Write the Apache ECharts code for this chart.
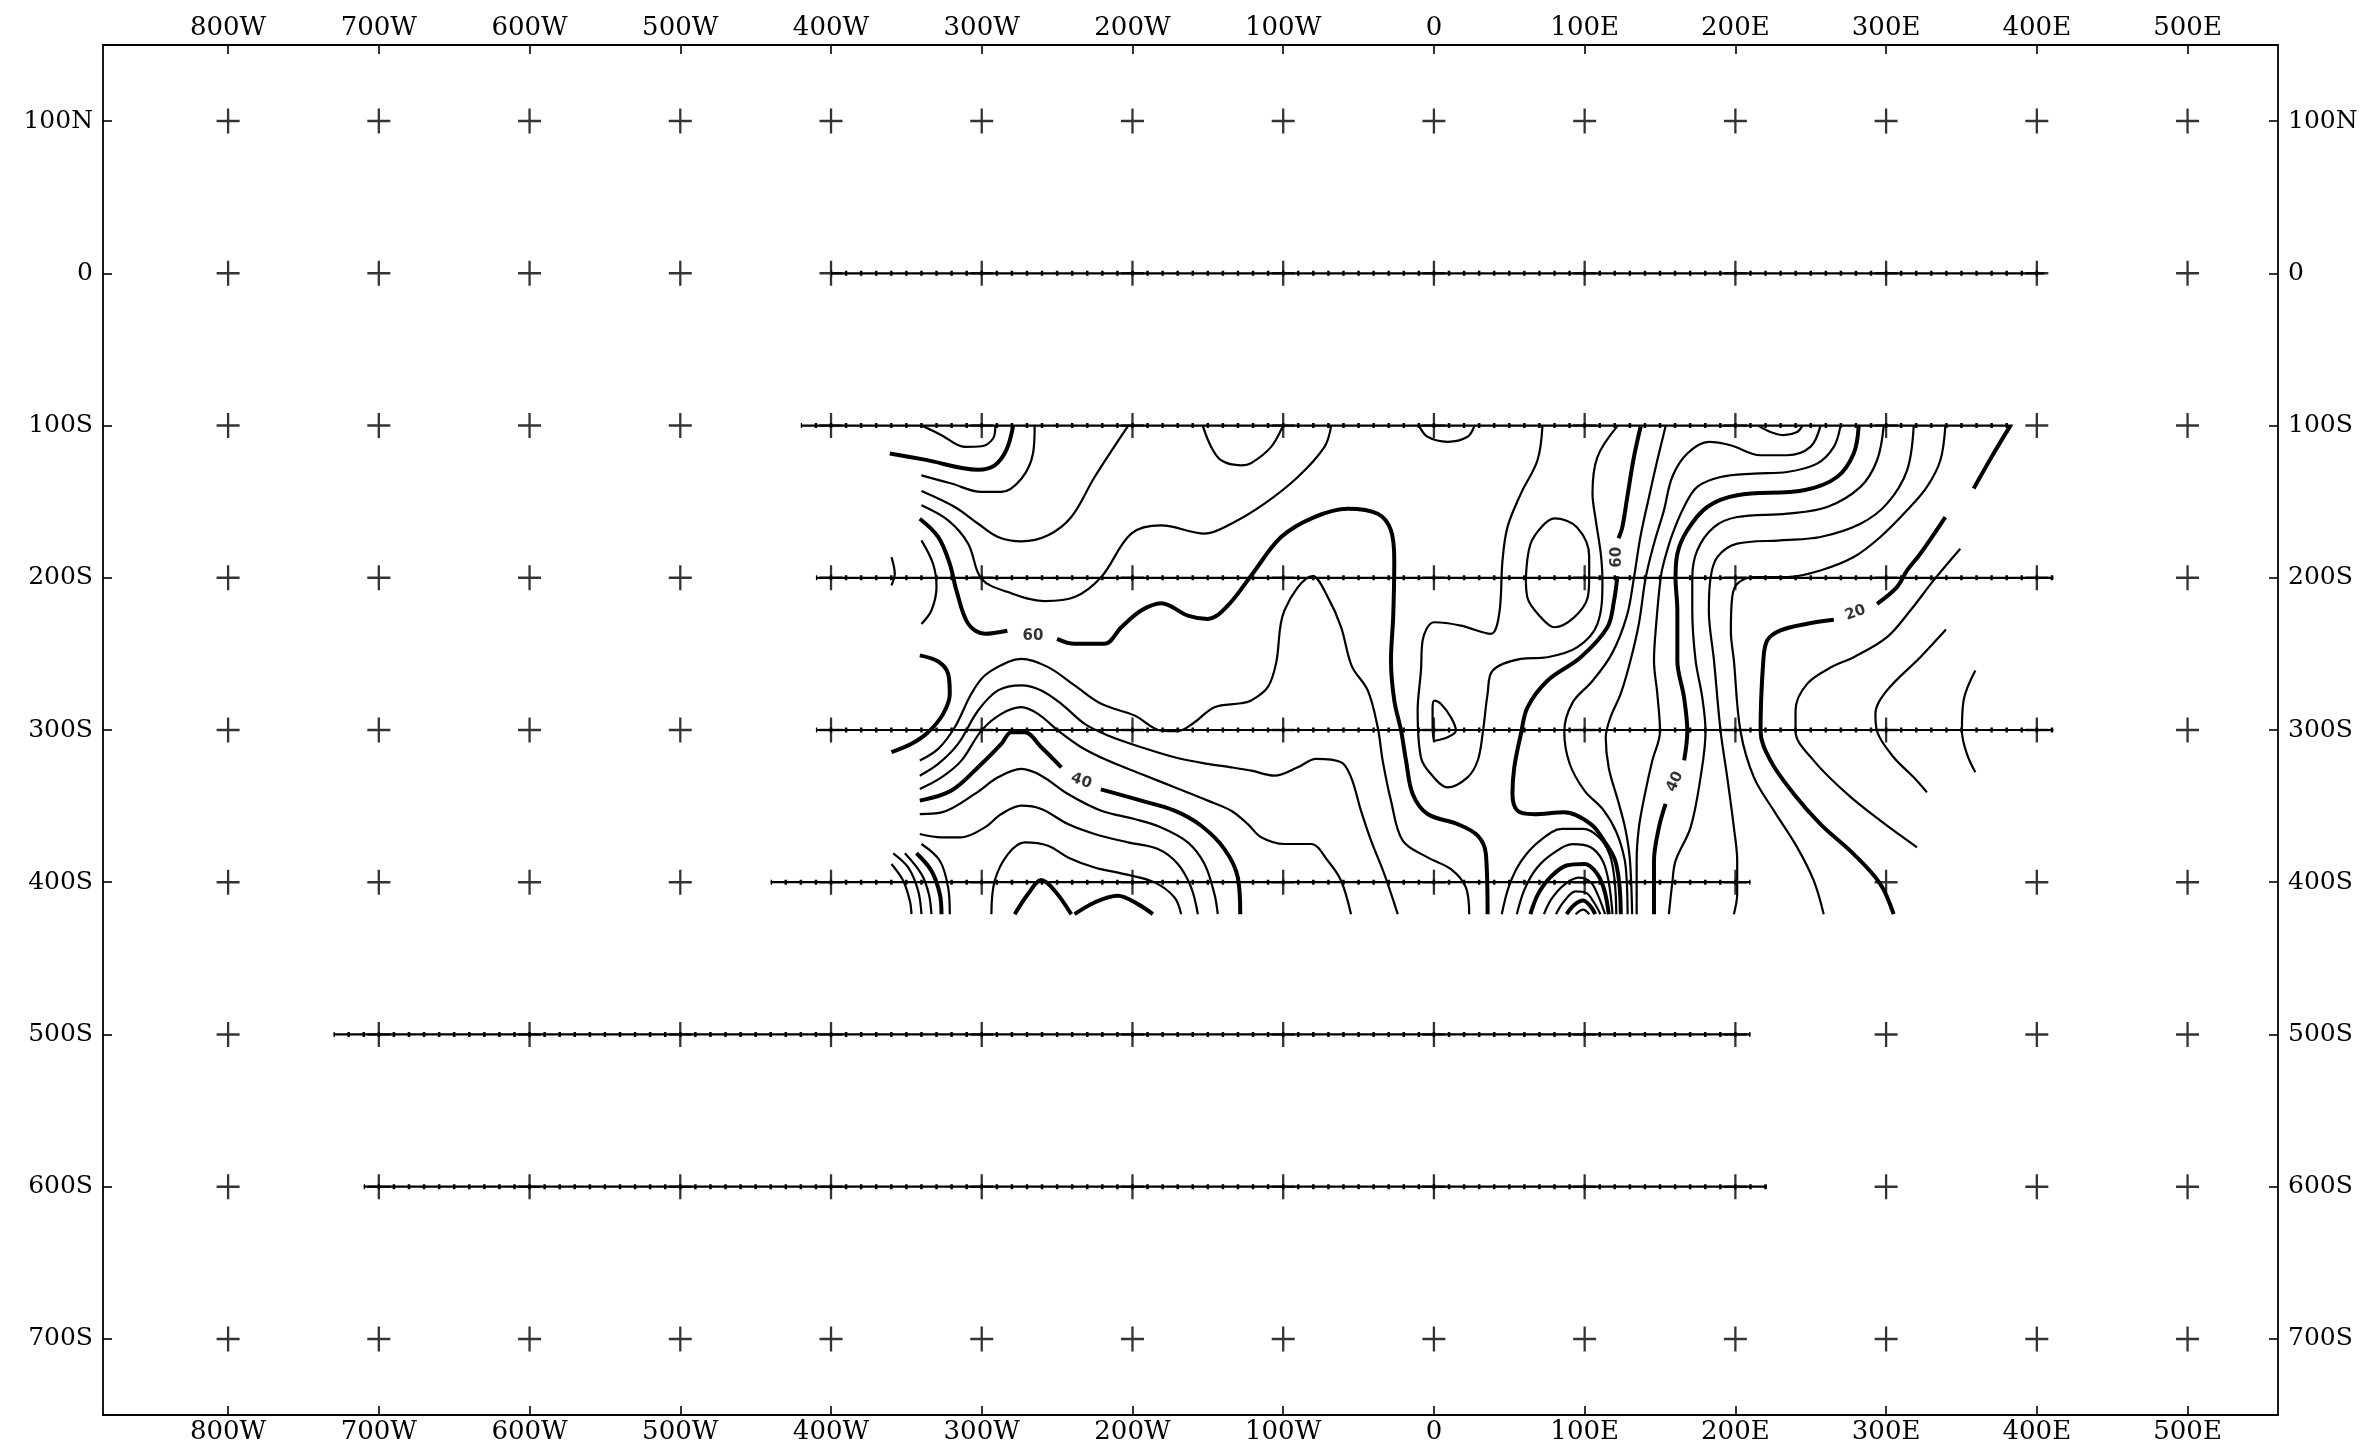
<!DOCTYPE html>
<html>
<head>
<meta charset="utf-8">
<script src="https://cdn.jsdelivr.net/npm/echarts/dist/echarts.min.js"></script>
<style>
	body { margin: 0; background: #fff; }
	#chart { width: 2368px; height: 1452px; }
</style>
</head>
<body>
<div id="chart"></div>
<script>
	// axis ticks and labels
	var xTickValues = [-800, -700, -600, -500, -400, -300, -200, -100, 0, 100, 200, 300, 400, 500];
	var xTickLabels = ['800W', '700W', '600W', '500W', '400W', '300W', '200W', '100W', '0', '100E', '200E', '300E', '400E', '500E'];
	var yTickValues = [100, 0, -100, -200, -300, -400, -500, -600, -700];
	var yTickLabels = ['100N', '0', '100S', '200S', '300S', '400S', '500S', '600S', '700S'];

	// survey lines: row, start, end
	var surveyRows = [0, -100, -200, -300, -400, -500, -600];
	var surveyStart = [-400, -420, -410, -410, -440, -730, -710];
	var surveyEnd = [405, 384, 411, 411, 210, 210, 221];

	// thin contours
	var thinContours = [
		[[-338.9,-100.4],[-326.7,-106.3],[-311.3,-114],[-300.2,-113.6],[-292.5,-108.5],[-291,-100.4]],
		[[-340,-132.7],[-320.1,-138.1],[-300.2,-143.6],[-287,-143.6],[-273.7,-134.9],[-266,-118.4],[-264.9,-100.4]],
		[[-340,-143],[-317.9,-153.5],[-302.4,-164.5],[-289.2,-173.2],[-273.7,-176.1],[-256,-172.1],[-240.6,-160.1],[-225.1,-133.8],[-203,-100.4]],
		[[-340,-152.4],[-322.3,-162.3],[-309,-177.6],[-300.2,-200.6],[-282.6,-209.4],[-258.3,-215.3],[-238.4,-212.7],[-220.7,-199.5],[-200.8,-171],[-180.9,-165.6],[-152.2,-171],[-134.5,-164.5],[-112.4,-151.3],[-90.3,-133.8],[-72.6,-114],[-68.2,-100.4]],
		[[-359.9,-186.4],[-357.7,-197.4],[-359.9,-205]],
		[[-340,-175.4],[-332.3,-190.8],[-330,-206.1],[-333.4,-221.5],[-340,-230.3]],
		[[-153.3,-100.4],[-147.8,-114],[-141.2,-122.8],[-127.9,-126.1],[-121,-124.5],[-108,-114],[-100.3,-100.4]],
		[[-9.7,-100.4],[-4.2,-107.4],[9.1,-110.7],[22.3,-107.4],[26.8,-100.4]],
		[[-341.1,-320.1],[-328.9,-312.4],[-317.9,-298.2],[-306.9,-276.2],[-298,-264.2],[-282.6,-255.4],[-273.7,-253.3],[-256,-258.7],[-238.4,-270.7],[-220.7,-282.8],[-198.6,-290.5],[-180.9,-300.4],[-169.9,-300.8],[-158.8,-294.9],[-145.6,-285],[-127.9,-282.4],[-121.2,-280.6],[-110.2,-271.8],[-104.7,-256],[-99.2,-221.5],[-80.4,-198.9],[-70.4,-212.7],[-61.6,-232.4],[-54.5,-258],[-43.9,-274],[-37.3,-298.2],[-34,-320.1],[-28.5,-346.4],[-20.7,-372.7],[-4.2,-383.7],[11.3,-391.4],[21.2,-403.4],[23.4,-421]],
		[[-341.1,-330],[-328.9,-322.3],[-315.7,-309.1],[-302.4,-287.2],[-289.2,-274],[-273.7,-270.7],[-260.5,-274],[-247.2,-282.8],[-231.7,-296],[-216.3,-303.6],[-194.2,-311.3],[-172.1,-317.9],[-150,-322.3],[-134.5,-324.5],[-121.2,-326.7],[-105.8,-330],[-90.3,-324.5],[-78.2,-319],[-61.6,-321.2],[-55,-331],[-48.4,-353],[-41.7,-372.7],[-32.9,-394.7],[-24,-421]],
		[[-341.1,-338.7],[-326.7,-331.1],[-313.5,-320.1],[-300.2,-300.4],[-287,-289.4],[-273.7,-285],[-262.7,-289.4],[-249.4,-300.4],[-234,-311.3],[-216.3,-320.1],[-194.2,-328.9],[-172.1,-337.6],[-150,-346.4],[-134.5,-353],[-123.5,-361.8],[-114.6,-370.5],[-99.2,-374.9],[-81.5,-374.9],[-70.4,-385.9],[-61.6,-399],[-55,-421]],
		[[-341.1,-355.2],[-326.7,-354.1],[-304.6,-342],[-289.2,-331.1],[-273.7,-325.6],[-260.5,-330],[-242.8,-342],[-220.7,-353],[-198.6,-358.5],[-180.9,-364],[-163.3,-373.8],[-152.2,-388],[-145.6,-407.8],[-143.4,-421]],
		[[-341.1,-368.3],[-326.7,-370.5],[-313.5,-370.5],[-298,-364],[-287,-355.2],[-273.7,-349.7],[-260.5,-351.9],[-242.8,-361.8],[-225.1,-368.3],[-203,-373.8],[-183.1,-378.2],[-169.9,-388],[-161.1,-403.4],[-156.6,-421]],
		[[-293.6,-421],[-291.4,-399],[-282.6,-381.5],[-271.5,-373.8],[-256,-376],[-242.8,-383.7],[-225.1,-390.3],[-205.2,-394.7],[-185.4,-400.1],[-172.1,-410],[-167.7,-421]],
		[[-359.9,-388],[-352.1,-399],[-347.7,-412.2],[-346.6,-421]],
		[[-358.8,-381],[-348.8,-390.3],[-342.2,-405.6],[-340,-421]],
		[[-351,-381],[-340,-394.7],[-335.1,-407.8],[-333.4,-421]],
		[[-340,-374.9],[-327.8,-385.9],[-322.3,-403.4],[-321.2,-421]],
		[[72,-100.4],[68.7,-122.8],[57.7,-144.7],[48.8,-166.7],[45.5,-188.6],[43.3,-223.7],[37.8,-236.8],[17.9,-231.4],[0.2,-229.2],[-7.5,-241.2],[-8.6,-261],[-10.8,-287.2],[-8.6,-318],[-2,-328.9],[9.1,-337.7],[22.3,-331.1],[29,-320.2],[32.3,-302.6],[35.6,-276.3],[38.9,-261],[57.7,-253.3],[75.3,-252.2],[95.2,-245.6],[108.5,-230.3],[111.8,-201.8],[110.7,-184.2],[107.4,-162.3],[105.2,-144.7],[108.5,-120.6],[121.7,-100.4]],
		[[61,-200],[64,-178],[72,-166],[80,-161],[95,-167],[103,-186],[103,-200],[102,-213],[93,-226],[80,-232.5],[71,-226],[62,-213],[61,-200]],
		[[-0.9,-285.1],[0.2,-280.7],[4.7,-282.9],[11.3,-291.7],[14.6,-300.4],[9.1,-304.8],[0.2,-307],[-0.9,-293.9],[-0.9,-285.1]],
		[[153.7,-100.4],[148.2,-122.8],[142.7,-146.9],[137,-173],[132.7,-200],[128,-225],[118,-250],[105,-268],[92,-282],[86.5,-301],[90,-322],[100,-340],[112,-352],[121,-367],[126.5,-385],[128,-401],[128.5,-421]],
		[[256.4,-100.4],[249.8,-114],[234.3,-119.5],[216.7,-119.5],[196.8,-112.9],[182.4,-110.7],[168.1,-118.4],[158.1,-133.8],[152.6,-155.7],[146,-177.6],[140.5,-200],[136,-230],[130.5,-254],[124,-276],[117,-292],[114,-305],[116,-325],[122,-346],[127,-365],[130,-385],[131.5,-421]],
		[[269.7,-100.4],[265.3,-114],[254.2,-125],[234.3,-130.5],[212.3,-131.6],[190.2,-133.8],[174.7,-140.3],[165.9,-153.5],[158,-172],[152.5,-190],[150.4,-200.2],[147.5,-230],[146,-254.3],[148.2,-276.2],[150,-300.8],[144.9,-320.1],[140,-342],[136,-364],[134.5,-386],[134.5,-421]],
		[[298.4,-100.4],[294,-122.8],[283,-140.3],[260.9,-153.5],[234.3,-157.9],[201.2,-160.1],[185.8,-166.7],[174.7,-182],[171.4,-200.2],[171.4,-221.5],[173.6,-254.3],[178,-278.4],[180.2,-300.8],[176.9,-331.1],[170.3,-364],[160.3,-386],[158.1,-400.8],[155.9,-421]],
		[[318.3,-100.4],[313.9,-129.4],[300.6,-151.3],[283,-164.5],[256.4,-173.2],[229.9,-175.4],[201.2,-177.6],[188,-186.4],[183.5,-200.2],[182.4,-221.5],[185.8,-254.3],[190.2,-300.8],[194.6,-331.1],[199,-364],[201.2,-386],[201.2,-407.8],[199,-421]],
		[[339.3,-100.4],[336,-122.8],[327.1,-140.3],[313.9,-155.7],[296.2,-173.2],[278.5,-186.4],[256.4,-195.2],[234.3,-199.5],[212.3,-199.5],[201.2,-204],[197.9,-212.7],[197,-235],[199,-254.3],[203.4,-300.8],[212.3,-331.1],[225.5,-353],[241,-377.1],[252,-399],[258.6,-421]],
		[[349.2,-180.9],[331.5,-201.7],[316.1,-221.5],[300.6,-239],[278.5,-252.2],[265,-258],[247.6,-269.7],[239.9,-287.2],[239.9,-300.8],[252,-320.1],[274.1,-342],[296.2,-359.6],[320.5,-377.1]],
		[[339.7,-234],[322.7,-252.2],[300.6,-274],[292.9,-289.4],[294,-300.8],[305,-317.9],[318.3,-331.1],[327.1,-341]],
		[[359.2,-260.9],[351.4,-280.6],[350.3,-300.8],[353.6,-315.7],[359.2,-327.8]],
		[[215.6,-100.4],[223.3,-104.2],[232.1,-106.3],[241,-104.2],[244.3,-100.4]],
		[[45,-421],[50,-402],[58,-386],[70,-373],[85,-365],[99,-365],[110,-371],[117,-383],[120,-400],[121,-421]],
		[[55,-421],[60,-405],[68,-391],[79,-381],[92,-375],[104,-377],[112,-386],[116,-400],[118.5,-421]],
		[[73,-421],[78,-411],[86,-402],[96,-397],[104,-400],[109,-409],[113.5,-421]],
		[[81,-421],[86,-413],[94,-406],[101,-407],[106,-413],[110.5,-421]],
		[[94,-421],[99,-418],[103,-421]]
	];

	// thick (index) contours
	var thickContours = [
		[[-361,-118.4],[-337.8,-122.4],[-302.4,-129],[-291.4,-126.1],[-283.7,-116.2],[-279.2,-100.4]],
		[[-341.1,-161.2],[-328.9,-173.2],[-321.2,-190.8],[-316.8,-208.3],[-309,-230.2],[-298,-236.8],[-283,-234.8]],
		[[-250,-240.1],[-238.4,-243.4],[-218.5,-243.4],[-207.4,-232.5],[-194.2,-221.5],[-180.9,-216.7],[-163.3,-224.8],[-150,-227],[-136.7,-218.2],[-121.2,-198.5],[-101.4,-173.2],[-79.3,-160.1],[-57.2,-154.6],[-37.3,-157.9],[-28.5,-168.8],[-26.3,-188.6],[-27,-225],[-28.5,-254],[-26.3,-280.6],[-21.8,-300.4],[-18.5,-320.1],[-14.1,-342],[-4.2,-355.2],[15.7,-361.8],[29,-369.4],[34.5,-381.5],[35.6,-421]],
		[[-341.1,-251],[-328.9,-255],[-322.3,-263.1],[-321.2,-276.2],[-325.6,-289.4],[-335.6,-301.5],[-346.6,-309.1],[-359.9,-314.6]],
		[[-341.1,-346.4],[-320.1,-339.8],[-300.2,-322.3],[-287,-309.1],[-280.3,-301.5],[-271.5,-301.5],[-260.5,-311.3],[-247.2,-324.5]],
		[[-221,-339],[-194.2,-346.4],[-172.1,-353],[-154.4,-362.9],[-139,-378.2],[-130.1,-396.8],[-128.5,-421]],
		[[-343.3,-381],[-333.4,-392.5],[-327.8,-407.8],[-326.7,-421]],
		[[-278.1,-421],[-269.3,-407.8],[-260.5,-398.6],[-251.6,-405.6],[-240.6,-421]],
		[[-238.4,-421],[-225.1,-413.3],[-209.7,-408.9],[-196.4,-414.4],[-186.5,-421]],
		[[137.2,-100.4],[132.7,-120.6],[128.3,-146.9],[125,-166.7],[122.5,-174]],
		[[121.7,-199],[119.5,-215],[115.1,-232.5],[97.4,-252.2],[75.3,-267.6],[62.1,-285.1],[57.7,-302.6],[53.3,-324.6],[52.1,-342.1],[55.5,-353.1],[66.5,-355.3],[86.4,-354.1],[104.1,-361.8],[112.9,-372.8],[120,-385],[123,-401],[124,-421]],
		[[281.8,-100.4],[278.5,-118.4],[267.5,-133.8],[245.4,-142.5],[201.2,-145.8],[181.3,-153.5],[168.1,-168.8],[161.5,-184.2],[160.3,-200.2],[161.5,-221.5],[161.5,-254.3],[165.9,-278.4],[168.1,-300.8],[166,-320]],
		[[153.7,-348.6],[149.3,-364],[146,-386],[146,-421]],
		[[382.3,-100.4],[371.3,-118.4],[358.1,-141.4]],
		[[339.3,-160.1],[322.7,-184.2],[313.9,-195.2],[307.2,-206.1],[294,-217.1]],
		[[265.3,-227.6],[247.6,-230.2],[229.9,-234.6],[221.1,-241.2],[218.5,-255],[216.7,-300.8],[223.3,-320.1],[238.8,-342],[256.4,-361.8],[278.5,-381.5],[296.2,-401.2],[305,-421]],
		[[64,-421],[69,-408],[77,-397],[88,-389],[100,-388],[108,-394],[113,-405],[116,-421]],
		[[88,-421],[93,-415],[99,-412],[104,-416],[107,-421]]
	];

	// contour labels
	var contourLabelText = ['60', '40', '60', '40', '20'];
	var contourLabelPos = [[-266, -238], [-234, -333.5], [121.7, -186.5], [160, -334], [279.6, -223]];
	var contourLabelRotate = [0, -20, 90, 65, 20];

	var xMin = -883, xMax = 560, yMin = -750, yMax = 150;
	var gridLeft = 103, gridRight = 90;
	var pxPer10 = (2368 - gridLeft - gridRight) / (xMax - xMin) * 10;

	function xLabel(v) {
		return xTickLabels[xTickValues.indexOf(v)];
	}
	function yLabel(v) {
		return yTickLabels[yTickValues.indexOf(v)];
	}

	function xAxisOf(pos) {
		return {
			type: 'value',
			position: pos,
			min: xMin,
			max: xMax,
			splitLine: { show: false },
			axisLine: { show: true, onZero: false, lineStyle: { color: '#000', width: 1.8 } },
			axisTick: { show: true, inside: true, length: 9, customValues: xTickValues, lineStyle: { color: '#000', width: 1.6 } },
			axisLabel: { customValues: xTickValues, formatter: xLabel, color: '#000', fontFamily: 'DejaVu Serif', fontSize: 26, margin: 4 }
		}
	}
	function yAxisOf(pos) {
		return {
			type: 'value',
			position: pos,
			min: yMin,
			max: yMax,
			splitLine: { show: false },
			axisLine: { show: true, onZero: false, lineStyle: { color: '#000', width: 1.8 } },
			axisTick: { show: true, inside: true, length: 9, customValues: yTickValues, lineStyle: { color: '#000', width: 1.6 } },
			axisLabel: { customValues: yTickValues, formatter: yLabel, color: '#000', fontFamily: 'DejaVu Serif', fontSize: 25, margin: 10 }
		}
	}

	var series = [];

	// station crosses
	var crosses = [];
	yTickValues.forEach(function (y) {
		xTickValues.forEach(function (x) {
			crosses.push([x, y]);
		});
	});
	series.push({
		type: 'scatter',
		data: crosses,
		symbol: 'path://M9,0H11V9H20V11H11V20H9V11H0V9H9Z',
		symbolSize: [23, 25],
		itemStyle: { color: '#000' },
		silent: true
	});

	// survey tracks
	surveyRows.forEach(function (row, i) {
		var pts = [[surveyStart[i], row], [surveyEnd[i], row]];
		series.push({
			type: 'line', data: pts, symbol: 'none', silent: true,
			lineStyle: { color: '#000', width: 2.2 }
		});
		series.push({
			type: 'line', data: pts, symbol: 'none', silent: true,
			lineStyle: { color: '#000', width: 5, type: [2.5, pxPer10 - 2.5], dashOffset: 1.25, cap: 'butt' }
		});
	});

	thinContours.forEach(function (c) {
		series.push({
			type: 'line', data: c, symbol: 'none', smooth: 0.35, silent: true,
			lineStyle: { color: '#000', width: 2.2 }
		});
	});
	thickContours.forEach(function (c) {
		series.push({
			type: 'line', data: c, symbol: 'none', smooth: 0.35, silent: true,
			lineStyle: { color: '#000', width: 4 }
		});
	});

	series.push({
		type: 'scatter',
		symbolSize: 1,
		itemStyle: { color: 'rgba(0,0,0,0)' },
		silent: true,
		label: { show: true, position: 'inside', color: '#000', fontSize: 15, fontWeight: 'bold', fontFamily: 'DejaVu Sans' },
		data: contourLabelPos.map(function (p, i) {
			return { value: p, label: { formatter: contourLabelText[i], rotate: contourLabelRotate[i] } };
		})
	});

	var option = {
		animation: false,
		backgroundColor: '#fff',
		grid: { left: gridLeft, right: gridRight, top: 45, bottom: 37 },
		xAxis: [xAxisOf('bottom'), xAxisOf('top')],
		yAxis: [yAxisOf('left'), yAxisOf('right')],
		series: series
	};

	var chart = echarts.init(document.getElementById('chart'));
	chart.setOption(option);
</script>
</body>
</html>
